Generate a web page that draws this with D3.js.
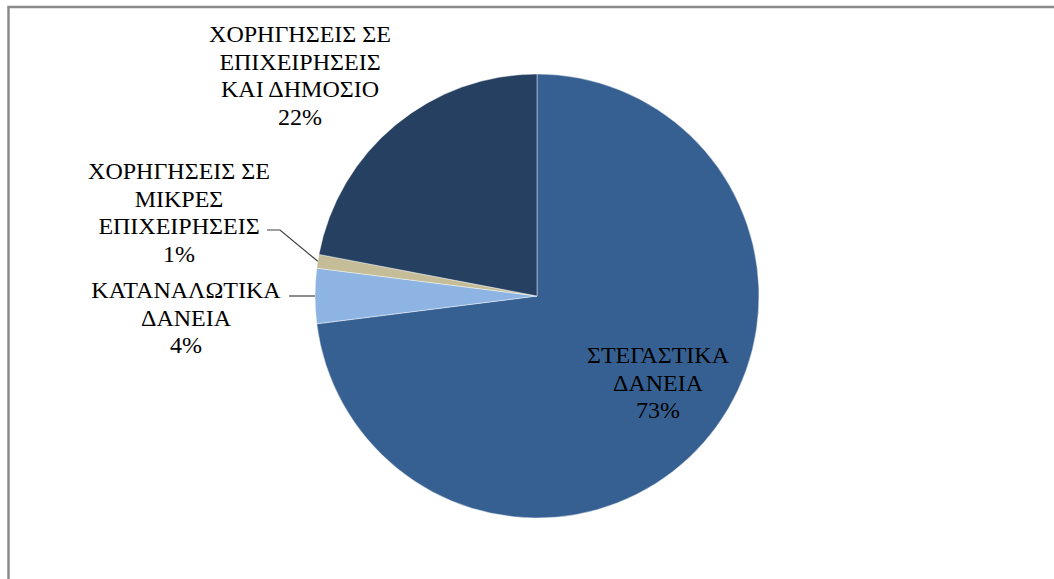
<!DOCTYPE html>
<html>
<head>
<meta charset="utf-8">
<script src="https://cdn.jsdelivr.net/npm/d3@7"></script>
<style>
  html, body { margin: 0; padding: 0; background: #fff; }
  svg { display: block; }
  text { font-family: "Liberation Serif", "Times New Roman", serif; fill: #000; }
</style>
</head>
<body>
<svg id="chart" width="1054" height="579"></svg>
<script>
// Loan categories, in drawing order (clockwise from 12 o'clock)
const categories = [
  "ΣΤΕΓΑΣΤΙΚΑ ΔΑΝΕΙΑ",
  "ΚΑΤΑΝΑΛΩΤΙΚΑ ΔΑΝΕΙΑ",
  "ΧΟΡΗΓΗΣΕΙΣ ΣΕ ΜΙΚΡΕΣ ΕΠΙΧΕΙΡΗΣΕΙΣ",
  "ΧΟΡΗΓΗΣΕΙΣ ΣΕ ΕΠΙΧΕΙΡΗΣΕΙΣ ΚΑΙ ΔΗΜΟΣΙΟ"
];
// Share of each category, percent
const shares = [73, 4, 1, 22];
// Label lines for each category
const labelLines = [
  ["ΣΤΕΓΑΣΤΙΚΑ", "ΔΑΝΕΙΑ"],
  ["ΚΑΤΑΝΑΛΩΤΙΚΑ", "ΔΑΝΕΙΑ"],
  ["ΧΟΡΗΓΗΣΕΙΣ ΣΕ", "ΜΙΚΡΕΣ", "ΕΠΙΧΕΙΡΗΣΕΙΣ"],
  ["ΧΟΡΗΓΗΣΕΙΣ ΣΕ", "ΕΠΙΧΕΙΡΗΣΕΙΣ", "ΚΑΙ ΔΗΜΟΣΙΟ"]
];
const colors = ["#376092", "#8db4e2", "#c4bd97", "#254061"];

const svg = d3.select("#chart");

// outer chart frame
svg.append("rect")
  .attr("x", 8.5).attr("y", 7)
  .attr("width", 1200).attr("height", 800)
  .attr("fill", "none")
  .attr("stroke", "#8a8a8a")
  .attr("stroke-width", 2.5);

const cx = 537, cy = 296, r = 222;
const data = categories.map((c, i) => ({ name: c, value: shares[i], lines: labelLines[i], color: colors[i] }));

const pie = d3.pie().value(d => d.value).sort(null);
const arcs = pie(data);
const arc = d3.arc().innerRadius(0).outerRadius(r);
const edge = d3.arc().innerRadius(r).outerRadius(r);

const g = svg.append("g").attr("transform", `translate(${cx},${cy})`);

g.selectAll("path.slice")
  .data(arcs)
  .join("path")
  .attr("class", "slice")
  .attr("d", arc)
  .attr("fill", d => d.data.color)
  .attr("stroke", "#ffffff")
  .attr("stroke-opacity", 0.55)
  .attr("stroke-width", 0.8);

// label anchors (centre x, first baseline) and optional leader start
const labelPos = [
  { x: 658, y: 363, leader: null },
  { x: 186, y: 298, leader: [289, 296] },
  { x: 179, y: 179, leader: [267, 230], bend: [280, 230] },
  { x: 300, y: 42, leader: null }
];
const lineH = 27.6;
const fontSize = 24;

arcs.forEach((a, i) => {
  const p = labelPos[i];
  const t = svg.append("text")
    .attr("text-anchor", "middle")
    .attr("font-size", fontSize);
  const lines = a.data.lines.concat([Math.round(a.data.value) + "%"]);
  lines.forEach((ln, k) => {
    t.append("tspan").attr("x", p.x).attr("y", p.y + k * lineH).text(ln);
  });
  if (p.leader) {
    const [ex, ey] = edge.centroid(a);
    const pts = [p.leader];
    if (p.bend) pts.push(p.bend);
    pts.push([cx + ex, cy + ey]);
    svg.append("path")
      .attr("d", d3.line()(pts))
      .attr("fill", "none")
      .attr("stroke", "#404040")
      .attr("stroke-width", 1.2);
  }
});
</script>
</body>
</html>
